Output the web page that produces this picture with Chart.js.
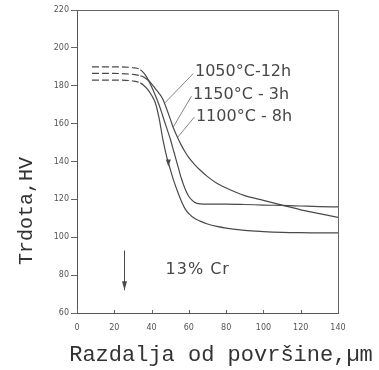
<!DOCTYPE html>
<html>
<head>
<meta charset="utf-8">
<script src="https://cdn.jsdelivr.net/npm/chart.js@4/dist/chart.umd.min.js"></script>
<style>
  html, body { margin: 0; padding: 0; background: #fff; }
  #wrap { width: 379px; height: 370px; }
</style>
</head>
<body>
<div id="wrap"><canvas id="c" width="379" height="370"></canvas></div>
<script>
// Distance from the surface, µm
const distance = [8, 20, 30, 34, 36, 38, 40, 42, 44, 46, 48, 50, 52, 54, 56, 58, 60, 63, 66, 70, 75, 80, 90, 100, 110, 120, 130, 140];

// Hardness profiles, HV
const hv1050_12h = [190, 190, 189.5, 188.5, 186.5, 183.5, 179.5, 175, 170, 164, 158, 152, 145, 138, 131, 125.5, 121.5, 118.5, 117.6, 117.5, 117.5, 117.5, 117.3, 117, 116.8, 116.5, 116.2, 116];
const hv1150_3h  = [186.5, 186.5, 186, 185.3, 184.5, 183, 181, 178.5, 176, 173, 168, 162.5, 157, 152.5, 148.5, 145, 142, 138.5, 135.5, 132, 128.5, 126, 122, 119.5, 117, 114.5, 112.5, 110.5];
const hv1100_8h  = [183, 183, 182.5, 181.5, 180, 178, 175, 171, 163, 152, 143, 136, 129.5, 124, 119, 115, 112.5, 110, 108.5, 107, 105.7, 104.8, 103.6, 103, 102.6, 102.4, 102.3, 102.3];

const seriesLabels = ['1050°C-12h', '1150°C - 3h', '1100°C - 8h'];
const xTicks = [0, 20, 40, 60, 80, 100, 120, 140];
const yTicks = [60, 80, 100, 120, 140, 160, 180, 200, 220];

// Measured core region is dashed up to this depth
const dashedUntil = 34;

// Callout texts (data coordinates) and their leader lines
const calloutPos = [[63.3, 187.5], [62.2, 175.3], [63.8, 163.7]];
const leaderFrom = [[62.4, 186.5], [61.4, 174.5], [63.0, 163.5]];
const leaderTo   = [[47.2, 171], [51.5, 158], [54.2, 153]];
// Direction marker on the 1100°C curve
const curveArrow = [49, 139];
// Vertical arrow marking the 25 µm depth
const depthArrow = { x: 25, from: 93, to: 72 };
const alloyNote = { text: '13% Cr', x: 47.5, y: 83 };

const ink = '#4a4a4a';

function makeSeries(label, values) {
  return {
    label,
    data: distance.map((d, i) => ({ x: d, y: values[i] })),
    borderColor: ink,
    borderWidth: 1.2,
    pointRadius: 0,
    fill: false,
    cubicInterpolationMode: 'monotone',
    segment: {
      borderDash: ctx => (ctx.p1.parsed.x <= dashedUntil ? [7, 3] : undefined)
    }
  };
}

const decorations = {
  id: 'decorations',
  afterDatasetsDraw(chart) {
    const { ctx, chartArea: a, scales: { x, y } } = chart;
    const px = v => x.getPixelForValue(v);
    const py = v => y.getPixelForValue(v);
    ctx.save();

    // frame: top and right sides
    ctx.strokeStyle = '#666';
    ctx.lineWidth = 1;
    ctx.beginPath();
    ctx.moveTo(a.left, a.top + 0.5);
    ctx.lineTo(a.right + 0.5, a.top + 0.5);
    ctx.lineTo(a.right + 0.5, a.bottom);
    ctx.stroke();

    // small inward tick marks on the distance axis
    ctx.beginPath();
    xTicks.forEach(t => {
      const xx = Math.round(px(t)) + 0.5;
      ctx.moveTo(xx, a.bottom);
      ctx.lineTo(xx, a.bottom - 3);
    });
    ctx.stroke();

    // callout texts with leader lines
    ctx.fillStyle = '#474747';
    ctx.font = '16px "DejaVu Sans"';
    ctx.textAlign = 'left';
    ctx.textBaseline = 'middle';
    seriesLabels.forEach((t, i) => {
      ctx.fillText(t, px(calloutPos[i][0]), py(calloutPos[i][1]));
    });
    ctx.strokeStyle = '#777';
    ctx.lineWidth = 0.9;
    ctx.beginPath();
    leaderFrom.forEach((p, i) => {
      ctx.moveTo(px(p[0]), py(p[1]));
      ctx.lineTo(px(leaderTo[i][0]), py(leaderTo[i][1]));
    });
    ctx.stroke();

    // arrowhead on the curve
    ctx.fillStyle = ink;
    const ax = px(curveArrow[0]), ay = py(curveArrow[1]);
    ctx.beginPath();
    ctx.moveTo(ax - 2.5, ay - 4);
    ctx.lineTo(ax + 2.5, ay - 4);
    ctx.lineTo(ax, ay + 3);
    ctx.closePath();
    ctx.fill();

    // depth arrow
    const dx = Math.round(px(depthArrow.x)) + 0.5;
    ctx.strokeStyle = ink;
    ctx.lineWidth = 1;
    ctx.beginPath();
    ctx.moveTo(dx, py(depthArrow.from));
    ctx.lineTo(dx, py(depthArrow.to));
    ctx.stroke();
    const tipY = py(depthArrow.to);
    ctx.beginPath();
    ctx.moveTo(dx - 2.5, tipY - 9);
    ctx.lineTo(dx + 2.5, tipY - 9);
    ctx.lineTo(dx, tipY);
    ctx.closePath();
    ctx.fill();

    // alloy note
    ctx.fillStyle = '#474747';
    ctx.font = '16px "DejaVu Sans"';
    ctx.letterSpacing = '1px';
    ctx.fillText(alloyNote.text, px(alloyNote.x), py(alloyNote.y));
    ctx.letterSpacing = '0px';

    // axis titles
    ctx.fillStyle = '#333';
    ctx.textAlign = 'center';
    ctx.font = '22px "Liberation Mono"';
    ctx.fillText('Razdalja od površine,µm', 221, 355);
    ctx.save();
    ctx.translate(27, 211);
    ctx.rotate(-Math.PI / 2);
    ctx.font = '20px "Liberation Mono"';
    ctx.fillText('Trdota,HV', 0, 0);
    ctx.restore();

    ctx.restore();
  }
};

new Chart(document.getElementById('c'), {
  type: 'line',
  data: {
    datasets: [
      makeSeries(seriesLabels[0], hv1050_12h),
      makeSeries(seriesLabels[1], hv1150_3h),
      makeSeries(seriesLabels[2], hv1100_8h)
    ]
  },
  options: {
    responsive: false,
    devicePixelRatio: 1,
    animation: false,
    layout: { padding: { left: 0, right: 41, top: 10, bottom: 0 } },
    plugins: { legend: { display: false }, tooltip: { enabled: false } },
    scales: {
      x: {
        type: 'linear',
        min: 0, max: 140,
        afterBuildTicks: s => { s.ticks = xTicks.map(v => ({ value: v })); },
        afterFit: s => { s.height = 57; },
        grid: { display: false },
        border: { display: true, color: '#555', width: 1 },
        ticks: { font: { family: 'DejaVu Sans', size: 8 }, color: '#555', padding: 2, maxRotation: 0 }
      },
      y: {
        type: 'linear',
        min: 60, max: 220,
        afterBuildTicks: s => { s.ticks = yTicks.map(v => ({ value: v })); },
        afterFit: s => { s.width = 77; },
        grid: { drawOnChartArea: false, drawTicks: true, tickLength: 6, color: '#666' },
        border: { display: true, color: '#555', width: 1 },
        ticks: { font: { family: 'DejaVu Sans', size: 8 }, color: '#555', padding: 2 }
      }
    }
  },
  plugins: [decorations]
});
</script>
</body>
</html>
